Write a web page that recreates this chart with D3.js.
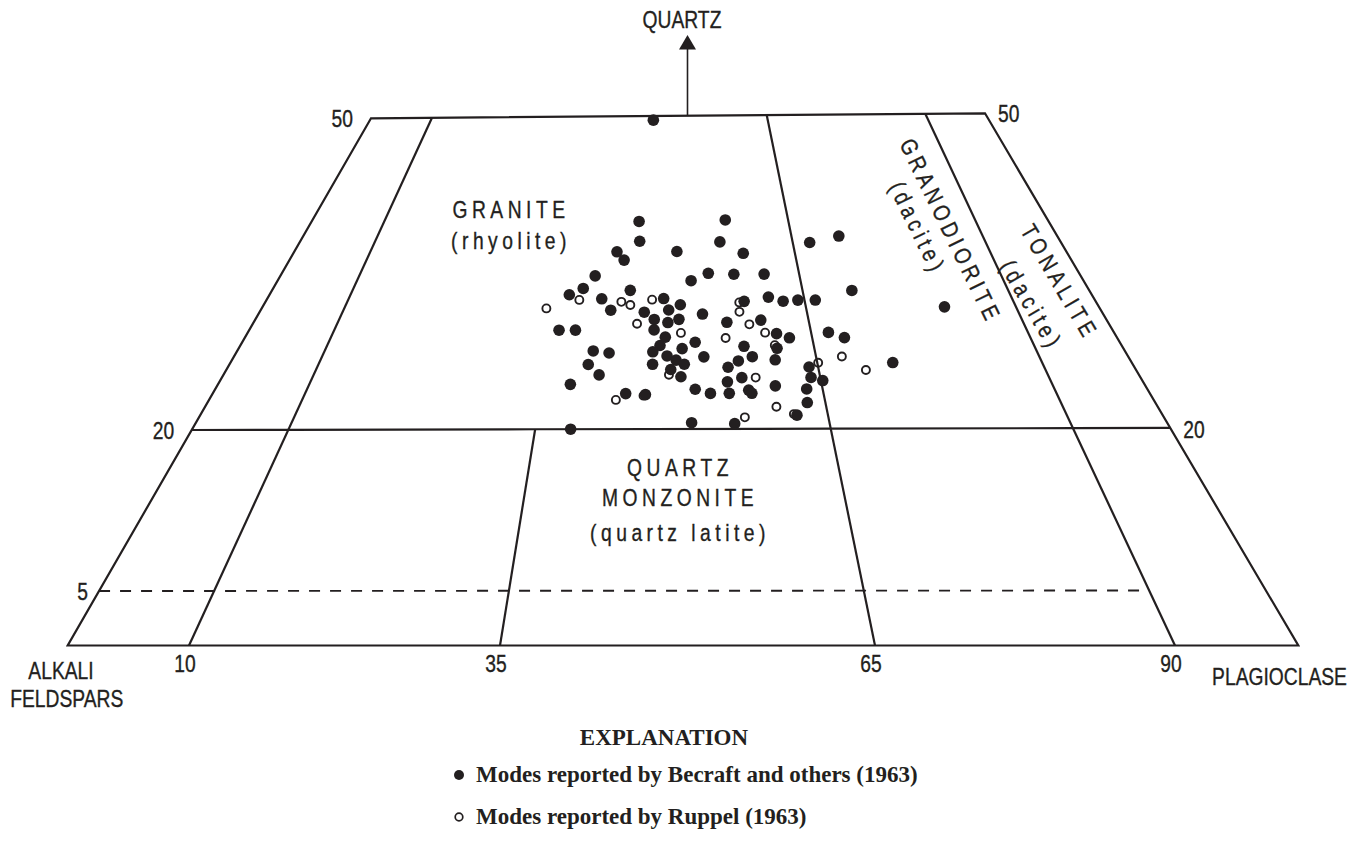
<!DOCTYPE html>
<html>
<head>
<meta charset="utf-8">
<script src="https://cdnjs.cloudflare.com/ajax/libs/d3/7.8.5/d3.min.js"></script>
<style>
  body { margin: 0; background: #fff; }
  svg { display: block; }
</style>
</head>
<body>
<svg width="1361" height="848"></svg>
<script>
// modal analyses as [quartz %, 100 * P / (A + P)]
var becraftModes = [
    [49.6, 46.2], [39.9, 44.6], [38.0, 44.8], [37.0, 41.9], [36.2, 42.9], [37.0, 49.7],
    [34.7, 39.4], [34.2, 51.4], [34.9, 53.6], [32.9, 36.5], [33.5, 38.1], [32.5, 40.5],
    [33.3, 43.9], [31.4, 41.7], [32.5, 48.0], [31.2, 45.7], [31.4, 48.6], [31.9, 50.0],
    [31.0, 52.6], [30.5, 46.9], [30.5, 49.8], [30.2, 48.5], [40.0, 56.4], [37.9, 55.4],
    [36.8, 58.3], [37.8, 67.2], [38.4, 71.2], [34.8, 56.8], [34.8, 60.6], [33.2, 71.0],
    [32.6, 60.7], [32.2, 57.7], [32.2, 62.4], [32.3, 64.2], [32.3, 66.3], [30.4, 59.4],
    [30.2, 55.4], [29.5, 35.9], [29.5, 37.8], [29.5, 46.9], [28.8, 48.2], [28.0, 47.6],
    [28.3, 51.6], [27.5, 40.1], [27.3, 41.9], [27.4, 46.8], [27.7, 50.1], [27.0, 48.4],
    [26.9, 52.5], [26.2, 39.7], [26.2, 46.8], [26.6, 49.4], [26.2, 50.3], [25.7, 48.8],
    [25.0, 49.9], [25.2, 41.0], [24.3, 38.0], [23.8, 51.4], [23.4, 53.0], [23.4, 44.0],
    [23.3, 46.1], [20.6, 50.9], [20.0, 38.6], [29.1, 61.0], [28.7, 62.4], [29.2, 67.0],
    [28.7, 68.7], [27.7, 60.8], [27.9, 57.1], [26.9, 57.9], [26.5, 56.3], [26.6, 60.4],
    [25.9, 55.1], [25.9, 64.0], [26.3, 73.4], [24.9, 56.5], [24.5, 54.9], [24.9, 64.0],
    [24.6, 65.2], [23.4, 55.0], [23.7, 57.1], [23.4, 57.4], [24.1, 60.0], [23.8, 63.3],
    [22.5, 63.1], [21.3, 61.8], [20.5, 55.3], [31.6, 81.5]
];
var ruppelModes = [
    [31.6, 34.0], [32.4, 37.8], [32.2, 42.9], [31.9, 44.0], [32.4, 46.6], [30.1, 44.9],
    [29.2, 50.0], [25.2, 48.6], [22.8, 43.0], [32.1, 57.1], [31.2, 57.0], [30.0, 58.0],
    [29.2, 59.7], [28.7, 55.1], [28.0, 60.6], [26.3, 65.1], [26.9, 67.9], [25.6, 70.2],
    [24.9, 58.0], [22.1, 59.8], [21.1, 56.4], [21.4, 61.5], [23.2, 45.9]
];
// field boundaries: plagioclase ratio lines and quartz levels
var plagStops = [0, 10, 35, 65, 90, 100];
var quartzStops = [0, 5, 20, 50];
var ratioLines = [
    { p: 10, from: 0, to: 50 },
    { p: 35, from: 0, to: 20 },
    { p: 65, from: 0, to: 50 },
    { p: 90, from: 0, to: 50 }
];
var ratioTicks = [10, 35, 65, 90];
var quartzTicksLeft = [50, 20, 5];
var quartzTicksRight = [50, 20];

window.onload = function() {
    var svg = d3.select("svg");
    var ink = "#231f20";

    // the diagram is the lower half of the QAP triangle
    var baseY = 645.5;
    var baseX = d3.scaleLinear().domain(plagStops).range([67.7, 189, 500, 875, 1175, 1298.3]);
    var topX = d3.scaleLinear().domain(plagStops).range([371, 432, 586, 766.7, 925.3, 985]);
    var topY = d3.scaleLinear().domain([0, 100]).range([118.3, 113.3]);
    var rise = d3.scaleLinear().domain(quartzStops).range([0, 0.1034, 0.4088, 1]);

    function pos(q, p) {
        var t = rise(q);
        return [baseX(p) + t * (topX(p) - baseX(p)), baseY + t * (topY(p) - baseY)];
    }
    var line = d3.line();

    // condensed sans labels (liberation sans squeezed to a narrow width)
    function sans(str, x, y, o) {
        o = o || {};
        return svg.append("text")
            .attr("transform", "translate(" + x + "," + y + ") rotate(" + (o.rotate || 0) + ") scale(0.82,1)")
            .attr("text-anchor", o.anchor || "middle")
            .attr("dy", "0.36em")
            .attr("fill", ink)
            .attr("stroke", ink)
            .attr("stroke-width", 0.35)
            .style("font-family", "'Liberation Sans', Arial, sans-serif")
            .style("font-size", "23.5px")
            .style("letter-spacing", o.spacing ? (o.spacing / 0.82) + "px" : null)
            .text(str);
    }

    var frame = svg.append("g")
        .attr("fill", "none")
        .attr("stroke", ink)
        .attr("stroke-width", 2.2)
        .attr("stroke-linejoin", "miter");

    // outline
    frame.append("path")
        .attr("d", line([pos(0, 0), pos(0, 100), pos(50, 100), pos(50, 0)]) + "Z");

    // quartz = 20 across the whole width
    frame.append("path")
        .attr("d", line(plagStops.map(function(p) { return pos(20, p); })));

    // quartz = 5, dashed, stops at the 90 line
    frame.append("path")
        .attr("stroke-dasharray", "11,10")
        .attr("stroke-width", 1.9)
        .attr("d", line(plagStops.filter(function(p) { return p <= 90; })
            .map(function(p) { return pos(5, p); })));

    // ratio lines
    frame.selectAll(".ratio")
        .data(ratioLines)
        .enter().append("path")
        .attr("class", "ratio")
        .attr("d", function(d) {
            return line([pos(d.from, d.p), pos(d.to, d.p)]);
        });

    // quartz arrow
    var ax = baseX(50);
    svg.append("line")
        .attr("x1", ax).attr("x2", ax)
        .attr("y1", pos(50, 50)[1]).attr("y2", 48)
        .attr("stroke", ink)
        .attr("stroke-width", 1.6);
    svg.append("path")
        .attr("d", "M" + ax + ",35L" + (ax - 8.5) + ",49.5L" + (ax + 8.5) + ",49.5Z")
        .attr("fill", ink);
    sans("QUARTZ", 682, 19.7);

    // tick labels
    var leftGap = { 50: 18, 20: 17.5, 5: 11 };
    quartzTicksLeft.forEach(function(q) {
        var pt = pos(q, 0);
        sans(String(q), pt[0] - leftGap[q], pt[1] + 0.7, { anchor: "end" });
    });
    quartzTicksRight.forEach(function(q) {
        var pt = pos(q, 100);
        sans(String(q), pt[0] + 13, q === 20 ? 430 : pt[1], { anchor: "start" });
    });
    ratioTicks.forEach(function(p) {
        sans(String(p), baseX(p) - 4, 664);
    });
    sans("ALKALI", 61, 671);
    sans("FELDSPARS", 66.7, 699);
    sans("PLAGIOCLASE", 1279.5, 677);

    // field names
    sans("GRANITE", 511, 210, { spacing: 4.5 });
    sans("(rhyolite)", 511, 241, { spacing: 4.5 });
    sans("QUARTZ", 680, 468, { spacing: 4.5 });
    sans("MONZONITE", 680, 498, { spacing: 4.5 });
    sans("(quartz latite)", 680, 533, { spacing: 4.5 });
    sans("GRANODIORITE", 951, 231, { spacing: 4.5, rotate: 64 });
    sans("(dacite)", 918, 228, { spacing: 4.5, rotate: 64 });
    sans("TONALITE", 1060, 282, { spacing: 4.5, rotate: 59.5 });
    sans("(dacite)", 1032, 305, { spacing: 4.5, rotate: 59.5 });

    // samples
    svg.append("g").selectAll("circle")
        .data(ruppelModes)
        .enter().append("circle")
        .attr("cx", function(d) { return pos(d[0], d[1])[0]; })
        .attr("cy", function(d) { return pos(d[0], d[1])[1]; })
        .attr("r", 4)
        .attr("fill", "none")
        .attr("stroke", ink)
        .attr("stroke-width", 1.9);
    svg.append("g").selectAll("circle")
        .data(becraftModes)
        .enter().append("circle")
        .attr("cx", function(d) { return pos(d[0], d[1])[0]; })
        .attr("cy", function(d) { return pos(d[0], d[1])[1]; })
        .attr("r", 5.8)
        .attr("fill", ink);

    // explanation
    var serif = "'Liberation Serif', 'Times New Roman', serif";
    svg.append("text")
        .attr("x", 664).attr("y", 744.5)
        .attr("text-anchor", "middle")
        .attr("fill", ink)
        .style("font-family", serif)
        .style("font-weight", "bold")
        .style("font-size", "23px")
        .text("EXPLANATION");
    var legend = [
        { label: "Modes reported by Becraft and others (1963)", filled: true, y: 775 },
        { label: "Modes reported by Ruppel (1963)", filled: false, y: 817 }
    ];
    var item = svg.selectAll(".legend")
        .data(legend)
        .enter().append("g")
        .attr("class", "legend")
        .attr("transform", function(d) { return "translate(459," + d.y + ")"; });
    item.append("circle")
        .attr("r", function(d) { return d.filled ? 5 : 3.8; })
        .attr("fill", function(d) { return d.filled ? ink : "none"; })
        .attr("stroke", function(d) { return d.filled ? null : ink; })
        .attr("stroke-width", 1.7);
    item.append("text")
        .attr("x", 17).attr("y", 7.4)
        .attr("fill", ink)
        .style("font-family", serif)
        .style("font-weight", "bold")
        .style("font-size", "23px")
        .text(function(d) { return d.label; });
};
</script>
</body>
</html>
